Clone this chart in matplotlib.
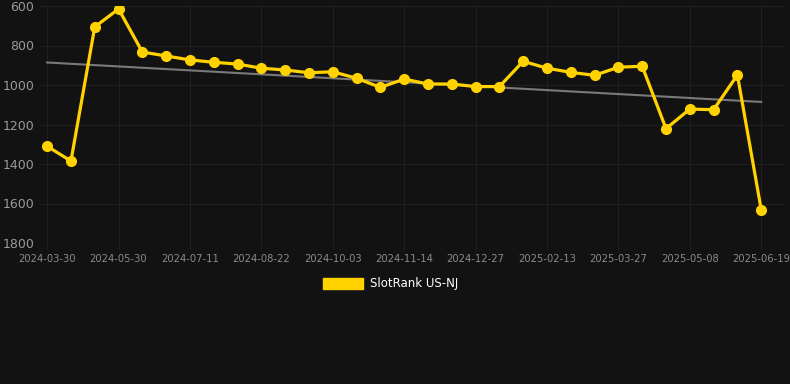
import numpy as np
import matplotlib
matplotlib.use("Agg")
import matplotlib.pyplot as plt
from matplotlib.patches import Patch

tick_labels = ["2024-03-30", "2024-05-30", "2024-07-11", "2024-08-22", "2024-10-03",
               "2024-11-14", "2024-12-27", "2025-02-13", "2025-03-27", "2025-05-08",
               "2025-06-19"]
ranks = [1310, 1385, 706, 615, 833, 853, 873, 885, 894, 915, 924, 938, 933, 966,
         1012, 970, 995, 995, 1008, 1008, 880, 915, 936, 951, 910, 905, 1221, 1122,
         1125, 949, 1631]
series_name = "SlotRank US-NJ"

bg = "#121212"
gold = "#FFD200"
fig = plt.figure(figsize=(7.9, 3.84), dpi=100, facecolor=bg)
ax = fig.add_axes([40/790, 1-243/384, 745/790, 237/384], facecolor=bg)

x = np.arange(len(ranks))
coef = np.polyfit(x, ranks, 1)
ax.plot(x, np.polyval(coef, x), color="#7a7a7a", lw=1.5, zorder=2)
ax.plot(x, ranks, color=gold, lw=2.3, marker="o", ms=7, zorder=3)

ax.set_ylim(1800, 600)
ax.set_xlim(-0.3, 31)
ax.set_yticks(np.arange(600, 1801, 200))
ax.set_xticks(x[::3])
ax.set_xticklabels(tick_labels)
ax.grid(True, color="#202020", lw=0.8)
for s in ax.spines.values():
    s.set_visible(False)
ax.tick_params(axis="y", colors="#9a9a9a", labelsize=9, length=0, pad=4)
ax.tick_params(axis="x", colors="#202020", labelcolor="#8a8a8a", labelsize=7.2, length=4, pad=4)

fig.legend(handles=[Patch(color=gold)], labels=[series_name], loc="center",
           bbox_to_anchor=(391/790, 1-284/384), frameon=False, labelcolor="white",
           fontsize=8.5, handlelength=3.4, handleheight=1.1, handletextpad=0.6)
fig.savefig("out.png", dpi=100, facecolor=bg)
